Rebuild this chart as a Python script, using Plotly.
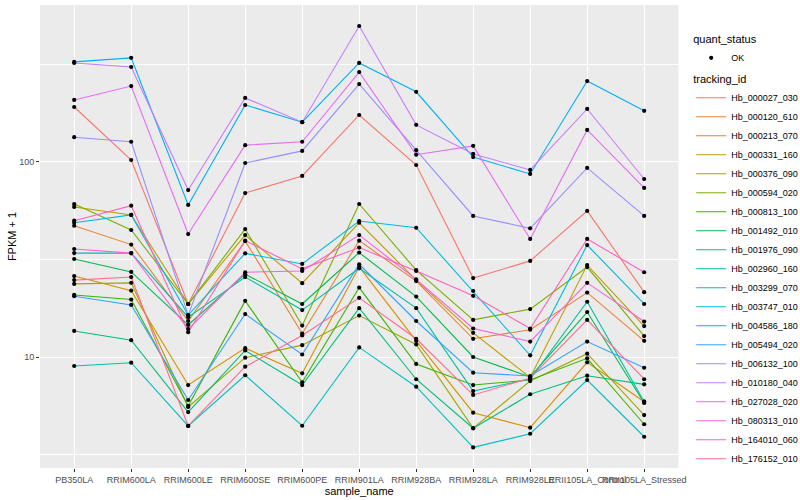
import plotly.graph_objects as go

samples = ["PB350LA", "RRIM600LA", "RRIM600LE", "RRIM600SE", "RRIM600PE", "RRIM901LA",
           "RRIM928BA", "RRIM928LA", "RRIM928LE", "RRII105LA_Control", "RRII105LA_Stressed"]

tracking_ids = ["Hb_000027_030", "Hb_000120_610", "Hb_000213_070", "Hb_000331_160", "Hb_000376_090",
                "Hb_000594_020", "Hb_000813_100", "Hb_001492_010", "Hb_001976_090", "Hb_002960_160",
                "Hb_003299_070", "Hb_003747_010", "Hb_004586_180", "Hb_005494_020", "Hb_006132_100",
                "Hb_010180_040", "Hb_027028_020", "Hb_080313_010", "Hb_164010_060", "Hb_176152_010"]

colors = ["#F8766D", "#EA8331", "#D89000", "#C09B00", "#A3A500", "#7CAE00", "#39B600", "#00BB4E",
          "#00BF7D", "#00C1A3", "#00BFC4", "#00BAE0", "#00B0F6", "#35A2FF", "#9590FF", "#C77CFF",
          "#E76BF3", "#FA62DB", "#FF62BC", "#FF6C91"]

# FPKM + 1 per sample (order of `samples`)
Hb_000027_030 = [191.4, 102.4, 18.7, 69.3, 84.8, 174.2, 96.5, 25.4, 31.1, 56.1, 21.5]
Hb_000120_610 = [47.1, 37.7, 15.3, 39.3, 13.2, 39.5, 24.5, 12.4, 13.8, 21.4, 12.1]
Hb_000213_070 = [26.0, 21.9, 7.18, 11.1, 8.25, 29.0, 12.1, 5.18, 4.34, 9.39, 5.90]
Hb_000331_160 = [58.8, 53.5, 18.7, 42.2, 23.9, 48.8, 24.8, 13.3, 7.85, 29.6, 14.4]
Hb_000376_090 = [23.7, 24.0, 5.54, 9.92, 11.5, 16.3, 11.6, 4.32, 7.53, 10.4, 5.04]
Hb_000594_020 = [60.9, 44.8, 18.7, 45.3, 14.5, 60.9, 27.9, 15.5, 17.6, 28.9, 12.8]
Hb_000813_100 = [20.8, 19.7, 5.61, 19.4, 7.42, 22.7, 9.21, 7.18, 7.62, 9.85, 4.52]
Hb_001492_010 = [31.8, 27.3, 14.6, 26.6, 18.7, 34.3, 20.4, 10.0, 7.90, 17.0, 5.81]
Hb_001976_090 = [13.6, 12.2, 5.22, 10.8, 7.18, 17.8, 7.69, 4.31, 6.44, 8.02, 7.24]
Hb_002960_160 = [34.1, 34.1, 16.0, 25.7, 17.4, 28.5, 17.8, 6.69, 7.71, 19.2, 5.90]
Hb_003299_070 = [8.99, 9.35, 4.43, 8.06, 4.44, 11.2, 7.04, 3.44, 4.04, 7.62, 3.90]
Hb_003747_010 = [48.8, 53.5, 16.4, 34.0, 30.0, 49.8, 46.0, 21.8, 10.2, 37.5, 18.7]
Hb_004586_180 = [326, 342, 60.2, 196, 160, 322, 229, 106, 86.8, 260, 183]
Hb_005494_020 = [20.5, 18.5, 6.02, 16.6, 10.3, 29.9, 15.3, 8.31, 7.99, 12.0, 8.81]
Hb_006132_100 = [134, 127, 16.4, 98.8, 114, 251, 115, 52.9, 45.7, 93.2, 52.9]
Hb_010180_040 = [322, 307, 71.8, 213, 160, 498, 155, 110, 91.0, 187, 81.8]
Hb_027028_020 = [208, 245, 42.7, 122, 127, 289, 109, 121, 40.3, 146, 73.6]
Hb_080313_010 = [35.8, 34.1, 13.9, 27.2, 27.6, 42.2, 25.0, 14.0, 12.0, 24.0, 15.2]
Hb_164010_060 = [50.0, 59.7, 13.4, 39.5, 28.3, 36.4, 27.6, 20.6, 14.0, 40.3, 27.2]
Hb_176152_010 = [24.8, 25.7, 4.43, 8.92, 12.9, 20.1, 12.4, 6.39, 7.80, 15.5, 7.69]

series = [Hb_000027_030, Hb_000120_610, Hb_000213_070, Hb_000331_160, Hb_000376_090,
          Hb_000594_020, Hb_000813_100, Hb_001492_010, Hb_001976_090, Hb_002960_160,
          Hb_003299_070, Hb_003747_010, Hb_004586_180, Hb_005494_020, Hb_006132_100,
          Hb_010180_040, Hb_027028_020, Hb_080313_010, Hb_164010_060, Hb_176152_010]

FONT = "Liberation Sans, Arial, sans-serif"

fig = go.Figure()
for tid, col, vals in zip(tracking_ids, colors, series):
    fig.add_trace(go.Scatter(x=samples, y=vals, mode="lines", name=tid, showlegend=True,
                             line=dict(color=col, width=1.1), legend="legend2"))

px, py = [], []
for vals in series:
    px.extend(samples)
    py.extend(vals)
fig.add_trace(go.Scatter(x=px, y=py, mode="markers", name="OK", legend="legend", showlegend=True,
                         marker=dict(color="black", size=4.2, line=dict(width=0))))

fig.update_layout(
    width=800, height=500,
    showlegend=True,
    margin=dict(l=40, r=117, t=5, b=32),
    paper_bgcolor="white", plot_bgcolor="#EBEBEB",
    font=dict(family=FONT, size=9, color="#4D4D4D"),
    xaxis=dict(type="category", categoryorder="array", categoryarray=samples,
               range=[-0.6, 10.6], showgrid=True, gridcolor="white", gridwidth=1.1,
               zeroline=False, showline=False, ticks="outside", ticklen=3,
               tickcolor="#333333", tickwidth=1, tickangle=0,
               tickfont=dict(family=FONT, size=9, color="#4D4D4D"),
               title=dict(text="sample_name", font=dict(family=FONT, size=11, color="black"),
                          standoff=2)),
    yaxis=dict(type="log", range=[0.4308, 2.805], tickvals=[10, 100], ticktext=["10", "100"],
               showgrid=True, gridcolor="white", gridwidth=1.1, zeroline=False, showline=False,
               ticks="outside", ticklen=3, tickcolor="#333333", tickwidth=1,
               tickfont=dict(family=FONT, size=9, color="#4D4D4D"),
               minor=dict(tickvals=[10 ** 0.5, 10 ** 1.5, 10 ** 2.5], showgrid=True,
                          gridcolor="white", gridwidth=0.55, ticks=""),
               title=dict(text="FPKM + 1", font=dict(family=FONT, size=11, color="black"),
                          standoff=0)),
    legend=dict(title=dict(text="quant_status", font=dict(family=FONT, size=11, color="black")),
                xref="container", yref="container", x=0.864, y=0.942, xanchor="left", yanchor="top",
                font=dict(family=FONT, size=9, color="black"), bgcolor="rgba(0,0,0,0)",
                itemwidth=30, maxheight=100),
    legend2=dict(title=dict(text="tracking_id", font=dict(family=FONT, size=11, color="black")),
                 xref="container", yref="container", x=0.864, y=0.862, xanchor="left", yanchor="top",
                 font=dict(family=FONT, size=9, color="black"), bgcolor="rgba(0,0,0,0)",
                 itemwidth=30, tracegroupgap=0, maxheight=480),
)

fig.write_html("out.html", config={"displayModeBar": False},
               post_script="document.body.style.margin='0px';")
